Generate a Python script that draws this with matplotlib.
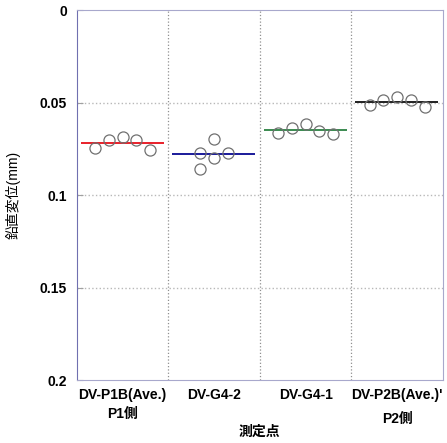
import numpy as np
import matplotlib.pyplot as plt

# measurement points
categories = ["DV-P1B(Ave.)\nP1側", "DV-G4-2", "DV-G4-1", "DV-P2B(Ave.)'\nP2側"]

# vertical displacement (mm) of each measurement
p1b_values = [0.0744, 0.0701, 0.0688, 0.0704, 0.0757]
g42_values = [0.0694, 0.0771, 0.0798, 0.0771, 0.0856]
g41_values = [0.0663, 0.0636, 0.0616, 0.0654, 0.0667]
p2b_values = [0.0510, 0.0483, 0.0469, 0.0486, 0.0526]

series = [p1b_values, g42_values, g41_values, p2b_values]
line_colors = ["#e8202a", "#1a1a9a", "#3a8a50", "#202020"]

# horizontal placement of markers inside each category (layout only)
offsets = [
    [-0.3, -0.15, 0.0, 0.15, 0.3],
    [0.0, -0.15, 0.0, 0.15, -0.15],
    [-0.3, -0.15, 0.0, 0.15, 0.3],
    [-0.3, -0.15, 0.0, 0.15, 0.3],
]

plt.rcParams['font.family'] = ['Liberation Sans', 'Noto Sans CJK JP']

fig = plt.figure(figsize=(4.47, 4.43), dpi=100)
ax = fig.add_axes([0.172, 0.142, 0.819, 0.835])

for i, (vals, offs, col) in enumerate(zip(series, offsets, line_colors)):
    center = i + 0.5
    ax.hlines(np.mean(vals), i + 0.04, i + 0.95, color=col, lw=1.4, zorder=3)
    ax.plot([center + o for o in offs], vals, 'o', ms=8, mfc='none',
            mec='#707070', mew=0.9, zorder=4)

ax.set_xlim(0, 4)
ax.set_ylim(0.2, 0)
ax.set_yticks([0, 0.05, 0.1, 0.15, 0.2])
ax.set_yticklabels(["0", "0.05", "0.1", "0.15", "0.2"], fontweight='bold')
ax.set_xticks([0.5, 1.5, 2.5, 3.5])
labels = ax.set_xticklabels(categories, fontsize=10, fontweight='bold')
labels[0].set_linespacing(1.4)
labels[3].set_linespacing(1.85)
ax.tick_params(axis='x', length=0, pad=6)
ax.tick_params(axis='y', direction='in', length=4, color='#a0a0a0',
               labelsize=10, pad=7)

for v in [1, 2, 3]:
    ax.axvline(v, color='#909090', lw=0.9, ls=':', zorder=1)
for h in [0.05, 0.1, 0.15]:
    ax.axhline(h, color='#b8b8b8', lw=1.0, ls=':', zorder=1)

for s in ['top', 'right', 'bottom']:
    ax.spines[s].set_color('#a8a8cc')
ax.spines['left'].set_color('#7070b0')

ax.set_ylabel("鉛直変位(mm)", fontsize=10, labelpad=14)
ax.set_xlabel("測定点", fontsize=10, fontweight='bold')
ax.xaxis.set_label_coords(0.5, -0.12)

fig.savefig("out.png", dpi=100)
